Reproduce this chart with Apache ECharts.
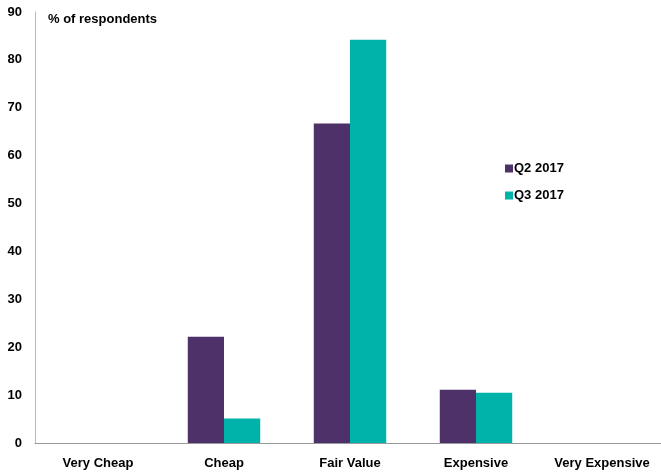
<!DOCTYPE html>
<html>
<head>
<meta charset="utf-8">
<script src="https://cdn.jsdelivr.net/npm/echarts@6/dist/echarts.min.js"></script>
<style>html,body{margin:0;padding:0;background:#fff;}#c{width:661px;height:473px;}</style>
</head>
<body>
<div id="c"></div>
<script>
var categories = ['Very Cheap', 'Cheap', 'Fair Value', 'Expensive', 'Very Expensive'];
var q2 = [0, 22.2, 66.7, 11.1, 0];
var q3 = [0, 5.1, 84.2, 10.5, 0];
var seriesNames = ['Q2 2017', 'Q3 2017'];
var yTitle = '% of respondents';

var chart = echarts.init(document.getElementById('c'));
var font = 'Liberation Sans, Arial, sans-serif';
chart.setOption({
  animation: false,
  grid: { left: 35, width: 630, top: 12, bottom: 30, containLabel: false, outerBoundsMode: 'none' },
  title: {
    text: yTitle, left: 43, top: 8,
    textStyle: { fontFamily: font, fontSize: 13, fontWeight: 'bold', color: '#000' }
  },
  legend: {
    orient: 'vertical', left: 500, top: 156, itemWidth: 8, itemHeight: 8, itemGap: 12,
    icon: 'rect',
    textStyle: { fontFamily: font, fontSize: 13, fontWeight: 'bold', color: '#000', lineHeight: 15, padding: [0,0,0,-4] },
    data: seriesNames
  },
  xAxis: {
    type: 'category', data: categories,
    axisLine: { lineStyle: { color: '#999', width: 1 } },
    axisTick: { show: false },
    axisLabel: { fontFamily: font, fontSize: 13, fontWeight: 'bold', color: '#000', margin: 14, interval: 0 }
  },
  yAxis: {
    type: 'value', min: 0, max: 90, interval: 10,
    axisLine: { show: true, lineStyle: { color: '#bbb', width: 1 } },
    axisTick: { show: false },
    splitLine: { show: false },
    axisLabel: { fontFamily: font, fontSize: 13, fontWeight: 'bold', color: '#000', margin: 13 }
  },
  series: [
    { name: seriesNames[0], type: 'bar', data: q2, barGap: '0%', barCategoryGap: '42.5%',
      itemStyle: { color: '#4E3169' } },
    { name: seriesNames[1], type: 'bar', data: q3,
      itemStyle: { color: '#00B3AA' } }
  ]
});
</script>
</body>
</html>
